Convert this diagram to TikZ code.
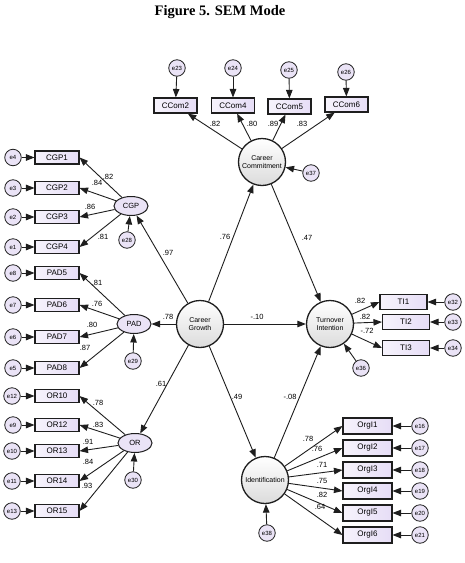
\documentclass[tikz,border=0pt]{standalone}
\usepackage{fontspec}
\setmainfont{Liberation Serif}
\setsansfont{Liberation Sans}
\usetikzlibrary{arrows.meta,shapes.geometric}
\definecolor{boxfill}{RGB}{230,221,246}
\definecolor{efill}{RGB}{234,227,246}
\definecolor{lineclr}{RGB}{30,30,30}
\begin{document}
\begin{tikzpicture}[x=1pt,y=-1pt,
  obs/.style={draw=lineclr, line width=1.1pt, left color=white!65!boxfill, right color=boxfill, minimum width=44pt, minimum height=13pt, inner sep=0pt, font=\sffamily\fontsize{8}{9}\selectfont},
  err/.style={circle, draw=lineclr, line width=0.8pt, fill=efill, minimum size=16.5pt, inner sep=0pt, font=\sffamily\fontsize{6}{7}\selectfont},
  lat/.style={circle, draw=lineclr, line width=1.3pt, top color=white, bottom color=gray!28, minimum size=47pt, inner sep=0pt, align=center, font=\sffamily\fontsize{7}{8.5}\selectfont},
  latell/.style={ellipse, draw=lineclr, line width=1pt, fill=efill, minimum width=34pt, minimum height=19pt, inner sep=0pt, font=\sffamily\fontsize{7.5}{8}\selectfont},
  arr/.style={-{Triangle[length=8.5pt,width=6.5pt]}, line width=0.9pt, draw=lineclr},
  lbl/.style={font=\sffamily\fontsize{7.5}{8}\selectfont, inner sep=0pt}]
\useasboundingbox (0,0) rectangle (464,563);

\node[font=\bfseries\fontsize{14.5}{16}\selectfont] (title) at (220,12) {Figure 5. SEM Mode};

% latent variables
\node[lat] (cg) at (200,324) {Career\\Growth};
\node[lat] (cc) at (262,162) {Career\\Commitment};
\node[lat] (ti) at (330,324) {Turnover\\Intention};
\node[lat] (id) at (265,480) {Identification};
\node[latell] (cgp) at (131,206) {CGP};
\node[latell] (pad) at (134,324) {PAD};
\node[latell] (or) at (135,443) {OR};

% left indicators
\node[obs] (cgp1) at (57,157.5) {CGP1};
\node[obs] (cgp2) at (57,188) {CGP2};
\node[obs] (cgp3) at (57,217) {CGP3};
\node[obs] (cgp4) at (57,247) {CGP4};
\node[obs] (pad5) at (57,273) {PAD5};
\node[obs] (pad6) at (57,305) {PAD6};
\node[obs] (pad7) at (57,337) {PAD7};
\node[obs] (pad8) at (57,368) {PAD8};
\node[obs] (or10) at (57,396) {OR10};
\node[obs] (or12) at (57,425) {OR12};
\node[obs] (or13) at (57,451) {OR13};
\node[obs] (or14) at (57,481) {OR14};
\node[obs] (or15) at (57,511) {OR15};

\node[err] (e4) at (13,157.5) {e4};
\node[err] (e3) at (13,188) {e3};
\node[err] (e2) at (13,217) {e2};
\node[err] (e1) at (13,247) {e1};
\node[err] (e8) at (13,273) {e8};
\node[err] (e7) at (13,305) {e7};
\node[err] (e6) at (13,337) {e6};
\node[err] (e5) at (13,368) {e5};
\node[err] (e12) at (12,396) {e12};
\node[err] (e9) at (13,425) {e9};
\node[err] (e10) at (12,451) {e10};
\node[err] (e11) at (12,481) {e11};
\node[err] (e13) at (12,511) {e13};

\node[err] (e28) at (127,240) {e28};
\node[err] (e29) at (133,361) {e29};
\node[err] (e30) at (133,480) {e30};

% top indicators
\node[obs, minimum width=43pt, minimum height=15pt] (ccom2) at (175.5,105.5) {CCom2};
\node[obs, minimum width=43pt, minimum height=15pt] (ccom4) at (233,105.5) {CCom4};
\node[obs, minimum width=43pt, minimum height=15pt] (ccom5) at (289.5,106.5) {CCom5};
\node[obs, minimum width=43pt, minimum height=15pt] (ccom6) at (346.5,104.5) {CCom6};
\node[err] (e23) at (177,68) {e23};
\node[err] (e24) at (233,68) {e24};
\node[err] (e25) at (289,70) {e25};
\node[err] (e26) at (346,72) {e26};
\node[err] (e37) at (311,173) {e37};

% turnover indicators
\node[obs, minimum width=47pt, minimum height=15pt] (ti1) at (403.5,302) {TI1};
\node[obs, minimum width=47pt, minimum height=15pt] (ti2) at (406,322) {TI2};
\node[obs, minimum width=47pt, minimum height=15pt] (ti3) at (406,348) {TI3};
\node[err] (e32) at (453,302) {e32};
\node[err] (e33) at (453,322) {e33};
\node[err] (e34) at (453,348) {e34};
\node[err] (e36) at (361,368) {e36};

% identification indicators
\node[obs, minimum width=49pt, minimum height=16pt] (o1) at (367.5,426) {OrgI1};
\node[obs, minimum width=49pt, minimum height=16pt] (o2) at (367.5,448) {OrgI2};
\node[obs, minimum width=49pt, minimum height=16pt] (o3) at (367.5,470) {OrgI3};
\node[obs, minimum width=49pt, minimum height=16pt] (o4) at (367.5,491) {OrgI4};
\node[obs, minimum width=49pt, minimum height=16pt] (o5) at (367.5,513) {OrgI5};
\node[obs, minimum width=49pt, minimum height=16pt] (o6) at (367.5,535) {OrgI6};
\node[err] (e16) at (420,426) {e16};
\node[err] (e17) at (420,448) {e17};
\node[err] (e18) at (420,470) {e18};
\node[err] (e19) at (420,491) {e19};
\node[err] (e20) at (420,513) {e20};
\node[err] (e21) at (420,535) {e21};
\node[err] (e38) at (267,533) {e38};

% error arrows
\foreach \e/\b in {e4/cgp1,e3/cgp2,e2/cgp3,e1/cgp4,e8/pad5,e7/pad6,e6/pad7,e5/pad8,e12/or10,e9/or12,e10/or13,e11/or14,e13/or15,e23/ccom2,e24/ccom4,e25/ccom5,e26/ccom6,e32/ti1,e33/ti2,e34/ti3,e16/o1,e17/o2,e18/o3,e19/o4,e20/o5,e21/o6,e28/cgp,e29/pad,e30/or,e37/cc,e36/ti,e38/id}
  \draw[arr] (\e) -- (\b);

% loadings
\foreach \b in {cgp1,cgp2,cgp3,cgp4} \draw[arr] (cgp) -- (\b.east);
\foreach \b in {pad5,pad6,pad7,pad8} \draw[arr] (pad) -- (\b.east);
\foreach \b in {or10,or12,or13,or14,or15} \draw[arr] (or) -- (\b.east);
\foreach \b in {ccom2,ccom4,ccom5,ccom6} \draw[arr] (cc) -- (\b);
\foreach \b in {ti1,ti2,ti3} \draw[arr] (ti) -- (\b.west);
\foreach \b in {o1,o2,o3,o4,o5,o6} \draw[arr] (id) -- (\b.west);

% structural paths
\draw[arr] (cg) -- (cgp);
\draw[arr] (cg) -- (pad);
\draw[arr] (cg) -- (or);
\draw[arr] (cg) -- (cc);
\draw[arr] (cg) -- (ti);
\draw[arr] (cg) -- (id);
\draw[arr] (cc) -- (ti);
\draw[arr] (id) -- (ti);

% labels
\node[lbl] (l1) at (108,177) {.82};
\node[lbl] (l2) at (97,183) {.84};
\node[lbl] (l3) at (90,207) {.86};
\node[lbl] (l4) at (103,237) {.81};
\node[lbl] (l5) at (97,283) {.81};
\node[lbl] (l6) at (97,304) {.76};
\node[lbl] (l7) at (92,325) {.80};
\node[lbl] (l8) at (85,348) {.87};
\node[lbl] (l9) at (98,403) {.78};
\node[lbl] (l10) at (98,425) {.83};
\node[lbl] (l11) at (88,442) {.91};
\node[lbl] (l12) at (88,462) {.84};
\node[lbl] (l13) at (87,486) {.93};
\node[lbl] (l14) at (215,124) {.82};
\node[lbl] (l15) at (252,124) {.80};
\node[lbl] (l16) at (273,124) {.89};
\node[lbl] (l17) at (302,124) {.83};
\node[lbl] (l18) at (168,253) {.97};
\node[lbl] (l19) at (168,317) {.78};
\node[lbl] (l20) at (161,384) {.61};
\node[lbl] (l21) at (225,237) {.76};
\node[lbl] (l22) at (307,238) {.47};
\node[lbl] (l23) at (257,317) {-.10};
\node[lbl] (l24) at (237,397) {.49};
\node[lbl] (l25) at (290,397) {-.08};
\node[lbl] (l26) at (360,301) {.82};
\node[lbl] (l27) at (365,317) {.82};
\node[lbl] (l28) at (367,331) {-.72};
\node[lbl] (l29) at (308,439) {.78};
\node[lbl] (l30) at (317,449) {.76};
\node[lbl] (l31) at (322,465) {.71};
\node[lbl] (l32) at (322,481) {.75};
\node[lbl] (l33) at (322,495) {.82};
\node[lbl] (l34) at (320,507) {.64};
\end{tikzpicture}
\end{document}
